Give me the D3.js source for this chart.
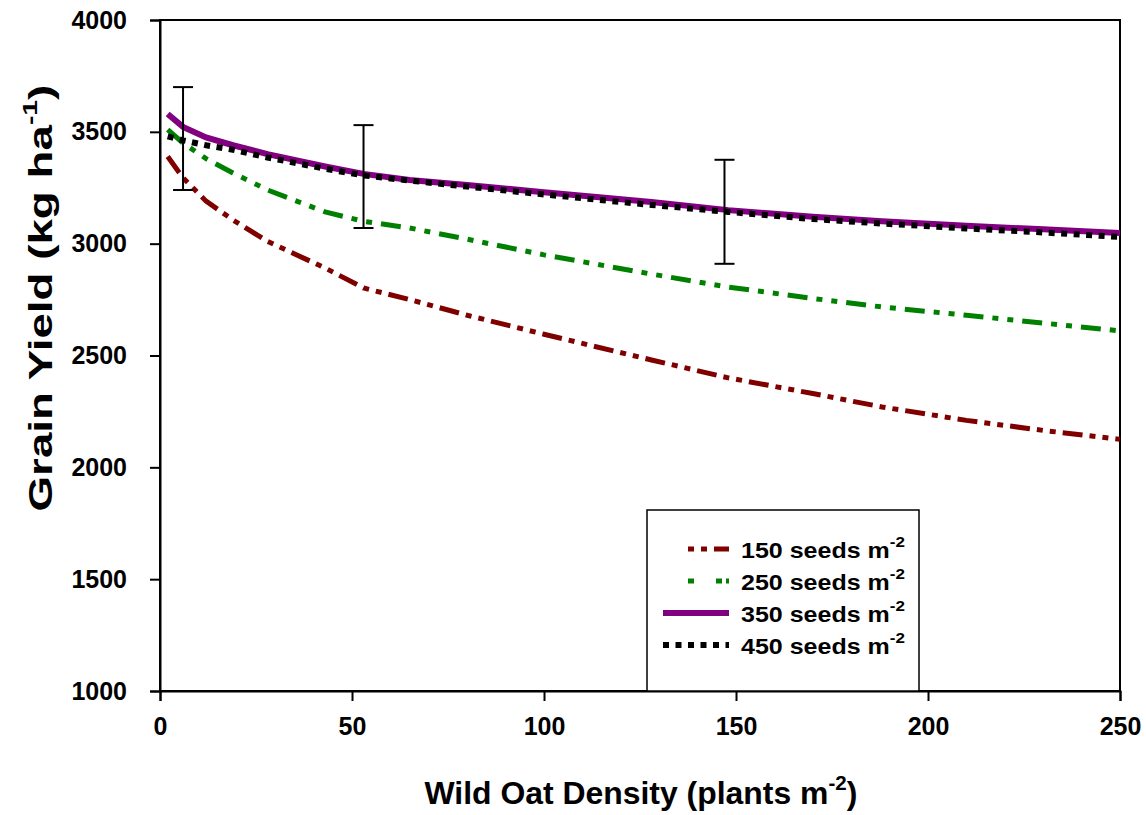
<!DOCTYPE html>
<html>
<head>
<meta charset="utf-8">
<script src="https://cdn.jsdelivr.net/npm/d3@7"></script>
<style>
  body { margin: 0; background: #fff; }
  text { font-family: "Liberation Sans", Arial, sans-serif; font-weight: bold; }
</style>
</head>
<body>
<div id="chart"></div>
<script>
// wild oat density (plants m-2)
const density = [2, 6, 12, 19, 28, 43, 53, 65, 80, 100, 128, 148, 170, 188, 210, 230, 250];

// grain yield (kg ha-1) for each crop seeding rate
const yield150 = [3390, 3294, 3190, 3106, 3010, 2891, 2802, 2750, 2680, 2595, 2480, 2400, 2330, 2270, 2210, 2165, 2125];
const yield250 = [3510, 3450, 3380, 3316, 3240, 3142, 3100, 3070, 3020, 2950, 2864, 2806, 2755, 2717, 2680, 2645, 2610];
const yield350 = [3580, 3522, 3475, 3440, 3400, 3345, 3312, 3285, 3262, 3230, 3186, 3150, 3120, 3100, 3080, 3064, 3048];
const yield450 = [3480, 3462, 3440, 3420, 3385, 3335, 3305, 3282, 3255, 3220, 3173, 3142, 3110, 3090, 3068, 3050, 3030];

const seriesNames = ["150 seeds m", "250 seeds m", "350 seeds m", "450 seeds m"];

// error bars
const errX = [6, 53, 147];
const errLow = [3240, 3070, 2910];
const errHigh = [3700, 3530, 3375];

const xTicks = [0, 50, 100, 150, 200, 250];
const yTicks = [1000, 1500, 2000, 2500, 3000, 3500, 4000];

const width = 1146, height = 815;
const margin = {top: 20, right: 26, bottom: 124, left: 160};

const svg = d3.select("#chart").append("svg")
    .attr("width", width)
    .attr("height", height);

const x = d3.scaleLinear().domain([0, 250]).range([margin.left, width - margin.right]);
const y = d3.scaleLinear().domain([1000, 4000]).range([height - margin.bottom, margin.top]);

// stretch a text block so it spans the given length
function fit(sel, cx, cy, len, vertical) {
    const b = sel.node().getBBox();
    const k = len / b.width;
    const mx = b.x + b.width / 2, my = b.y + b.height / 2;
    const rot = vertical ? " rotate(-90)" : "";
    sel.attr("transform", "translate(" + cx + "," + cy + ")" + rot + " scale(" + k + ",1) translate(" + -mx + "," + -my + ")");
}

// frame
svg.append("rect")
    .attr("x", x(0))
    .attr("y", y(4000))
    .attr("width", x(250) - x(0))
    .attr("height", y(1000) - y(4000))
    .attr("fill", "none")
    .attr("stroke", "#000")
    .attr("stroke-width", 2);

const xAxis = svg.append("g")
    .attr("transform", "translate(0," + y(1000) + ")")
    .call(d3.axisBottom(x).tickValues(xTicks).tickFormat(d3.format("d")).tickSize(10).tickPadding(16));
const yAxis = svg.append("g")
    .attr("transform", "translate(" + x(0) + ",0)")
    .call(d3.axisLeft(y).tickValues(yTicks).tickFormat(d3.format("d")).tickSize(10).tickPadding(23));

[xAxis, yAxis].forEach(g => {
    g.select(".domain").attr("stroke-width", 2);
    g.selectAll(".tick line").attr("stroke-width", 2);
    g.selectAll(".tick text").attr("fill", "#000").attr("font-size", 25)
        .style("font-family", "Liberation Sans, Arial, sans-serif").style("font-weight", "bold");
});

const styles = [
    {color: "#800000", dash: "20 7 6 7 6 7", width: 5},
    {color: "#008000", dash: "20 9 6 9 6 9", width: 5},
    {color: "#800080", dash: null, width: 6},
    {color: "#000000", dash: "6 6.5", width: 6}
];
const allYields = [yield150, yield250, yield350, yield450];

const line = d3.line()
    .x(d => x(d[0]))
    .y(d => y(d[1]));

allYields.forEach((vals, i) => {
    svg.append("path")
        .datum(density.map((d, j) => [d, vals[j]]))
        .attr("d", line)
        .attr("fill", "none")
        .attr("stroke", styles[i].color)
        .attr("stroke-width", styles[i].width)
        .attr("stroke-dasharray", styles[i].dash);
});

// error bars
const eb = svg.append("g").attr("stroke", "#000").attr("stroke-width", 2);
errX.forEach((d, i) => {
    eb.append("line").attr("x1", x(d)).attr("x2", x(d)).attr("y1", y(errLow[i])).attr("y2", y(errHigh[i]));
    eb.append("line").attr("x1", x(d) - 10).attr("x2", x(d) + 10).attr("y1", y(errLow[i])).attr("y2", y(errLow[i]));
    eb.append("line").attr("x1", x(d) - 10).attr("x2", x(d) + 10).attr("y1", y(errHigh[i])).attr("y2", y(errHigh[i]));
});

// legend
const legend = svg.append("g");
legend.append("rect")
    .attr("x", 647).attr("y", 510)
    .attr("width", 272).attr("height", y(1000) - 510)
    .attr("fill", "#fff").attr("stroke", "#000").attr("stroke-width", 1.5);

seriesNames.forEach((name, i) => {
    const ly = 549 + i * 32;
    const s = styles[i];
    legend.append("line")
        .attr("x1", i === 2 || i === 3 ? 663 : 688).attr("x2", 729)
        .attr("y1", ly).attr("y2", ly)
        .attr("stroke", s.color)
        .attr("stroke-width", s.width)
        .attr("stroke-dasharray", i === 0 ? "6 7 6 7 20" : i === 1 ? "6 22 6 4 6" : i === 3 ? "6 6.5" : null);
    const t = legend.append("text")
        .attr("font-size", 22)
        .text(name);
    t.append("tspan").attr("dy", -11).attr("font-size", 15).text("-2");
    fit(t, 823, ly - 1, 164, false);
});

// axis titles
const xt = svg.append("text")
    .attr("font-size", 31)
    .text("Wild Oat Density (plants m");
xt.append("tspan").attr("dy", -14).attr("font-size", 20).text("-2");
xt.append("tspan").attr("dy", 14).text(")");
fit(xt, 641, 791, 433, false);

const yt = svg.append("text")
    .attr("font-size", 34)
    .text("Grain Yield (kg ha");
yt.append("tspan").attr("dy", -15).attr("font-size", 21).text("-1");
yt.append("tspan").attr("dy", 15).text(")");
fit(yt, 38, 298, 427, true);
</script>
</body>
</html>
